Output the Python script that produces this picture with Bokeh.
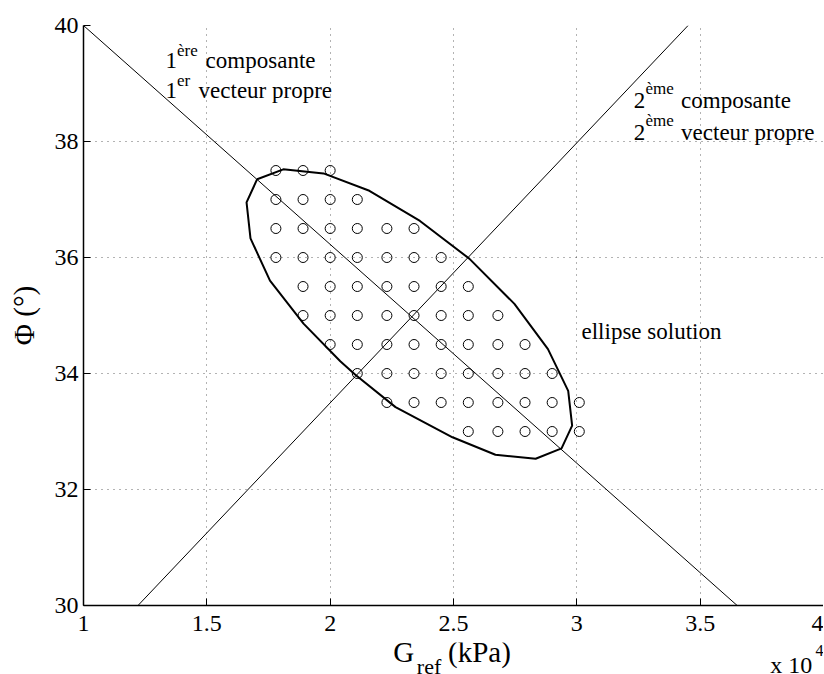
from bokeh.plotting import figure
from bokeh.layouts import column, row
from bokeh.models import (ColumnDataSource, Range1d, FixedTicker, CustomJSTickFormatter, Spacer)
from bokeh.core.properties import value
from bokeh.embed import file_html
from bokeh.resources import INLINE

# ---- data ----
# G_ref grid levels (kPa)
G_levels = [17800, 18900, 20000, 21100, 22300, 23400, 24500, 25600, 26800, 27900, 29000, 30100]
# phi rows and which G_levels (first..last index) are sampled in each row
phi_rows = [37.5, 37.0, 36.5, 36.0, 35.5, 35.0, 34.5, 34.0, 33.5, 33.0]
row_first = [0, 0, 0, 0, 1, 1, 2, 3, 4, 7]
row_last = [2, 3, 5, 6, 7, 8, 9, 10, 11, 11]

# solution ellipse outline
ell_G = [17040, 18100, 19730, 21590, 23640, 25640, 27470, 28830, 29650, 29810, 29380,
         28330, 26700, 24960, 22650, 21020, 20410, 18920, 17560, 16770, 16610, 17040]
ell_phi = [37.35, 37.52, 37.45, 37.15, 36.63, 35.98, 35.20, 34.42, 33.70, 33.10, 32.71,
           32.53, 32.60, 32.90, 33.42, 33.98, 34.21, 34.86, 35.60, 36.33, 36.95, 37.35]

# eigenvector lines
v1_G = [10000, 36500]
v1_phi = [40, 30]
v2_G = [12210, 34510]
v2_phi = [30, 40]

x_ticks = [10000, 15000, 20000, 25000, 30000, 35000, 40000]
y_ticks = [30, 32, 34, 36, 38, 40]

# annotation texts
ann_text = ["1", "ère", "composante", "1", "er", "vecteur propre",
            "2", "ème", "composante", "2", "ème", "vecteur propre", "ellipse solution"]
ann_x = [13321, 13790, 14951, 13321, 13790, 14666,
         32310, 32780, 34226, 32310, 32780, 34226, 30190]
ann_y = [39.395, 39.566, 39.395, 38.878, 39.049, 38.878,
         38.706, 38.906, 38.706, 38.162, 38.360, 38.162, 34.727]
ann_size = ["23px", "17px", "23px", "23px", "17px", "23px",
            "23px", "17px", "23px", "23px", "17px", "23px", "23px"]

# x-axis title pieces (G_ref (kPa)) and multiplier (x 10^4), in the strip below
xt_text = ["G", "ref", "(kPa)", "x 10", "4"]
xt_x = [22558, 23514, 24776, 37843, 39674]
xt_y = [22.5, 8.5, 22.5, 9.9, 24.5]
xt_size = ["29px", "22px", "29px", "24px", "16px"]

pts_G, pts_phi = [], []
for phi, a, b in zip(phi_rows, row_first, row_last):
    for i in range(a, b + 1):
        pts_G.append(G_levels[i])
        pts_phi.append(phi)

FONT = "Liberation Serif"

p = figure(width=819, height=642, output_backend="svg", toolbar_location=None,
           x_range=Range1d(10000, 40000), y_range=Range1d(30, 40),
           min_border_left=0, min_border_right=0, min_border_top=25, min_border_bottom=37)
p.outline_line_color = None
p.background_fill_color = "white"
p.border_fill_color = "white"

for ax in (p.xaxis[0], p.yaxis[0]):
    ax.axis_line_color = "black"
    ax.axis_line_width = 1.5
    ax.major_tick_in = 7
    ax.major_tick_out = 0
    ax.major_tick_line_color = "black"
    ax.minor_tick_line_color = None
    ax.major_label_text_font = FONT
    ax.major_label_text_font_size = "24px"
    ax.major_label_text_color = "black"

p.xaxis.ticker = FixedTicker(ticks=x_ticks)
p.yaxis.ticker = FixedTicker(ticks=y_ticks)
p.xaxis.formatter = CustomJSTickFormatter(code="return String(tick / 10000);")
p.xaxis.major_label_standoff = 10
p.yaxis.major_label_standoff = 5

p.yaxis.axis_label = "Φ (°)"
p.yaxis.axis_label_text_font = FONT
p.yaxis.axis_label_text_font_style = "normal"
p.yaxis.axis_label_text_font_size = "29px"
p.yaxis.axis_label_text_color = "black"
p.yaxis.axis_label_standoff = 12

for g in (p.xgrid[0], p.ygrid[0]):
    g.grid_line_color = "black"
    g.grid_line_alpha = 0.6
    g.grid_line_dash = "1 5"
    g.grid_line_width = 1

p.line(v1_G, v1_phi, line_color="black", line_width=1)
p.line(v2_G, v2_phi, line_color="black", line_width=1)
p.line(ell_G, ell_phi, line_color="black", line_width=2)
p.scatter(pts_G, pts_phi, marker="circle", size=10, fill_color=None,
          line_color="black", line_width=1)

src = ColumnDataSource(dict(x=ann_x, y=ann_y, text=ann_text, size=ann_size))
p.text(x="x", y="y", text="text", source=src, text_font=value(FONT),
       text_font_size="size", text_color="black", text_baseline="alphabetic",
       text_align="left")

# strip below the plot carrying the x-axis title and the x10^4 multiplier
p2 = figure(width=819, height=32, output_backend="svg", toolbar_location=None,
            x_range=p.x_range, y_range=Range1d(0, 32), title=None, min_border=0)
p2.axis.visible = False
p2.grid.visible = False
p2.outline_line_color = None
p2.background_fill_color = "white"
p2.border_fill_color = "white"
src2 = ColumnDataSource(dict(x=xt_x, y=xt_y, text=xt_text, size=xt_size))
p2.text(x="x", y="y", text="text", source=src2, text_font=value(FONT),
        text_font_size="size", text_color="black", text_baseline="alphabetic",
        text_align="left")

layout = row(Spacer(width=4, height=10), column(p, p2, spacing=0), spacing=0)
open("out.html", "w").write(file_html(layout, INLINE))
